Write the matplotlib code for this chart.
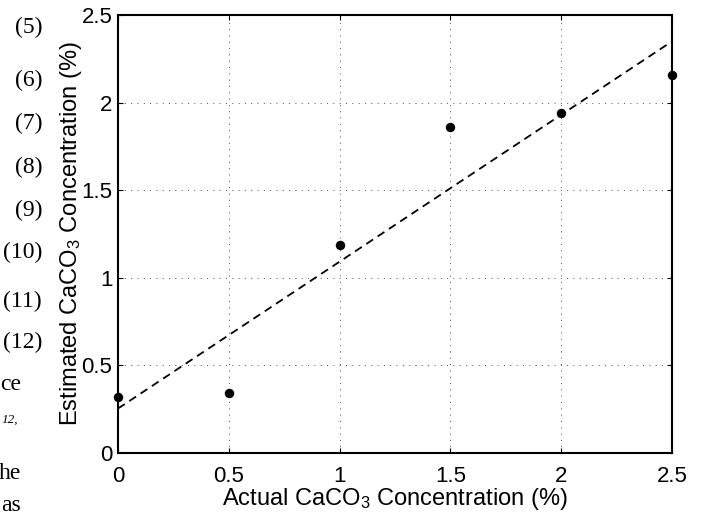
import numpy as np
import matplotlib
matplotlib.use("Agg")
from matplotlib import pyplot as plt

# measured vs estimated calcium carbonate
actual = [0, 0.5, 1, 1.5, 2, 2.5]
estimated = [0.32, 0.34, 1.19, 1.86, 1.94, 2.16]
tick_vals = [0, 0.5, 1, 1.5, 2, 2.5]
tick_labels = ["0", "0.5", "1", "1.5", "2", "2.5"]

# bits of the page text running down the left margin
eq_numbers = ["(5)", "(6)", "(7)", "(8)", "(9)", "(10)", "(11)", "(12)"]
eq_baselines = [33, 86, 129, 173, 216, 258, 307, 348]
margin_words = ["ce", "he", "as"]
margin_baselines = [390, 479, 511]

plt.rcParams["font.family"] = ["Liberation Sans", "DejaVu Sans"]
plt.rcParams["mathtext.fontset"] = "custom"
plt.rcParams["mathtext.rm"] = "Liberation Sans"
plt.rcParams["mathtext.it"] = "Liberation Sans"

W, H = 707, 515
fig = plt.figure(figsize=(W / 100, H / 100), dpi=100)
ax = fig.add_axes([118 / W, 1 - 453 / H, (672 - 118) / W, (453 - 15) / H])

# least squares fit line
k, b = np.polyfit(actual, estimated, 1)
xs = np.array([0, 2.5])
ax.plot(xs, k * xs + b, color="black", linestyle=(0, (4.5, 3)), linewidth=1.3)
ax.plot(actual, estimated, "o", color="black", markersize=5.8, clip_on=False, zorder=5)

ax.set_xlim(0, 2.5)
ax.set_ylim(0, 2.5)
ax.set_xticks(tick_vals)
ax.set_xticklabels(tick_labels)
ax.set_yticks(tick_vals)
ax.set_yticklabels(tick_labels)
ax.tick_params(direction="in", length=3.6, width=0.8, top=True, right=True,
               labelsize=16)
ax.tick_params(axis="x", pad=9)
ax.tick_params(axis="y", pad=4)
ax.grid(True, color="0.3", linestyle=(0, (1, 5.5)), linewidth=0.7)
for s in ax.spines.values():
    s.set_linewidth(1.5)

ax.set_xlabel("Actual CaCO$_3$ Concentration (%)", fontsize=17, labelpad=0)
ax.set_ylabel("Estimated CaCO$_3$ Concentration (%)", fontsize=17, labelpad=-1.5)

for t, yb in zip(eq_numbers, eq_baselines):
    fig.text(42 / W, 1 - yb / H, t, ha="right", va="baseline",
             family="Liberation Serif", fontsize=17)
for t, yb in zip(margin_words, margin_baselines):
    fig.text(21 / W, 1 - yb / H, t, ha="right", va="baseline",
             family="Liberation Serif", fontsize=17)
fig.text(2 / W, 1 - 423 / H, "12,", ha="left", va="baseline",
         family="Liberation Serif", style="italic", fontsize=9.5)

fig.savefig("out.png", dpi=100)
